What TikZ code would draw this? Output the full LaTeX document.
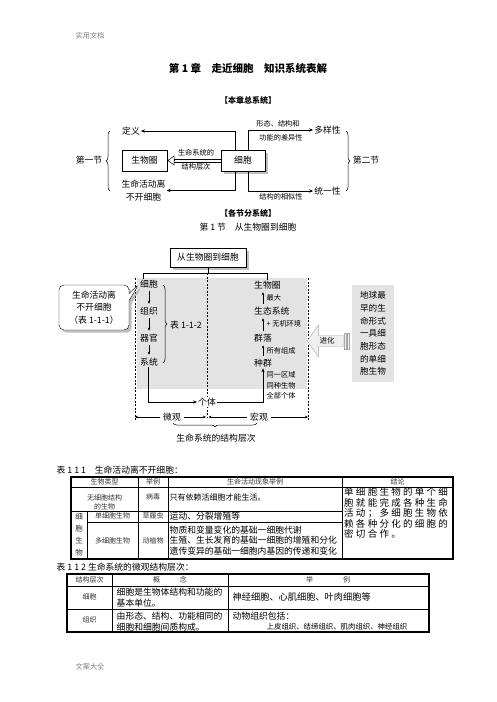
\documentclass[tikz,border=0pt]{standalone}
\usepackage{fontspec}
\setmainfont{Noto Sans CJK SC}
\newfontfamily\widecjk[LetterSpace=24]{Noto Sans CJK SC}
\usepackage{tikz}
\usetikzlibrary{positioning,arrows.meta,decorations.pathreplacing,shapes.callouts,shapes.arrows,shadows}
\newcommand{\fsz}[2]{\fontsize{#1}{#2}\selectfont}

\begin{document}
\begin{tikzpicture}[x=1pt,y=-1pt,
  txt/.style={inner sep=1pt,font=\fsz{8.8}{12.5}},
  sml/.style={inner sep=0.5pt,font=\fsz{7.2}{10.5}},
  tbl/.style={inner sep=0.5pt,font=\fsz{8.8}{10.6}},
  tsm/.style={inner sep=0.5pt,font=\fsz{7}{9.5},black!80},
  box/.style={draw,line width=0.9pt,inner sep=1pt,fill=white,font=\fsz{8.8}{10}},
  arr/.style={-{Stealth[length=4pt,width=3.2pt]},line width=0.5pt},
  sarr/.style={-{Stealth[length=3pt,width=2.6pt]},line width=0.4pt,shorten <=2pt,shorten >=2pt},
  brc/.style={decorate,decoration={brace,amplitude=4pt},line width=0.5pt},
  guide/.style={line width=0.4pt,dash pattern=on 2pt off 1.5pt}]

\fill[white] (0,0) rectangle (496,702);
\useasboundingbox (0,0) rectangle (496,702);

% page head
\node[sml,gray] (hd) at (90,36) {实用文档};
\node[font=\fsz{10.5}{12}\bfseries] (title) at (248,68) {第 1 章\quad 走近细胞\quad 知识系统表解};
\node[font=\fsz{8}{10}\bfseries] (part0) at (248,100) {【本章总系统】};

% chapter system
\node[box,minimum width=45pt,minimum height=21pt] (bio) at (144.5,160.5) {生物圈};
\node[box,line width=0.5pt,drop shadow,minimum width=44pt,minimum height=21pt] (cell) at (243,160.5) {细胞};
\node[txt] (def) at (131,131) {定义};
\node[txt,align=center] (life) at (143.5,190.5) {生命活动离\\不开细胞};
\node[txt] (div) at (327.5,130) {多样性};
\node[txt] (uni) at (327.5,191) {统一性};
\node[txt] (sec1) at (89,160) {第一节};
\node[txt] (sec2) at (366,160) {第二节};
\node[sml] (lvl1) at (196,153) {生命系统的};
\node[sml] (lvl2) at (196,167) {结构层次};
\node[sml] (dv1) at (278,124) {形态、结构和};
\node[sml] (dv2) at (281,138) {功能的差异性};
\node[sml] (un1) at (281,197) {结构的相似性};
\draw[arr] ([xshift=-8pt]cell.north) |- (def);
\draw[arr] ([xshift=-8pt]cell.south) |- (life.east);
\draw[arr] ([xshift=5pt]cell.north) |- (div);
\draw[arr] ([xshift=5pt]cell.south) |- (uni);
\draw[line width=0.5pt] ([yshift=1.6pt]cell.west) -- ([yshift=1.6pt,xshift=7pt]bio.east)
  ([yshift=-1.6pt]cell.west) -- ([yshift=-1.6pt,xshift=7pt]bio.east);
\draw[line width=0.5pt,-{Triangle[open,length=7pt,width=10pt]}] ([xshift=8pt]bio.east) -- (bio.east);
\draw[brc] (110,191) -- (110,131);
\draw[brc] (346,131) -- (346,191);

% section 1
\node[font=\fsz{8}{10}\bfseries] (part1) at (248,213) {【各节分系统】};
\node[font=\fsz{8.8}{10}] (sect) at (248,227) {第 1 节\quad 从生物圈到细胞};
\fill[gray!22] (137,278) rectangle (307,389);
\draw[guide] (135,278) -- (135,420);
\draw[guide] (308,278) -- (308,420);
\draw[guide] (207,273) -- (207,418);
\node[box,line width=0.5pt,drop shadow,minimum width=76pt,minimum height=19pt] (top) at (208,257.5) {从生物圈到细胞};

\node[txt] (lcell) at (149,284) {细胞};
\node[txt] (ltis) at (149,311) {组织};
\node[txt] (lorg) at (149,338) {器官};
\node[txt] (lsys) at (149,362) {系统};
\draw[sarr] (lcell) -- (ltis);
\draw[sarr] (ltis) -- (lorg);
\draw[sarr] (lorg) -- (lsys);
\draw[brc] (163,285) -- (163,363);
\node[txt] (t112) at (186,325) {表 1-1-2};

\node[txt,anchor=west] (rbio) at (253,285) {生物圈};
\node[txt,anchor=west] (reco) at (253,311) {生态系统};
\node[txt,anchor=west] (rcom) at (253,338) {群落};
\node[txt,anchor=west] (rpop) at (253,363) {种群};
\draw[sarr] (rcom.north |- reco.north) -- (rcom.north |- rbio.south);
\draw[sarr] (rcom.north) -- (rcom.north |- reco.south);
\draw[sarr] (rpop.north) -- (rpop.north |- rcom.south);
\node[sml,anchor=west] (lmax) at (266,298) {最大};
\node[sml,anchor=west] (lenv) at (266,324) {+ 无机环境};
\node[sml,anchor=west] (lall) at (266,351) {所有组成};
\node[sml,anchor=west,align=left] (lsame) at (266,385.5) {同一区域\\同种生物\\全部个体};

\draw[line width=0.5pt] ([xshift=-6pt]lcell.north) |- ([yshift=-6pt]top.south) -- (top.south);
\draw[line width=0.5pt] (rbio.north) |- ([yshift=-6pt]top.south);

\node[txt,rectangle callout,draw,fill=white,rounded corners=5pt,drop shadow,align=center,
  minimum width=70pt,minimum height=45pt,callout absolute pointer={(lcell.west)}] (note) at (94,307.5) {生命活动离\\不开细胞\\（表 1-1-1）};

\node[txt,fill=white] (indiv) at (207,402) {个体};
\draw[arr] ([xshift=-1pt]lsys.south) |- (indiv);
\draw[arr] (indiv) -| (rpop);

\node[txt,fill=white] (micro) at (172,417) {微观};
\node[txt,fill=white] (macro) at (259,417) {宏观};
\coordinate (mi1) at (135,417);
\coordinate (mi2) at (206,417);
\coordinate (ma1) at (208.5,417);
\coordinate (ma2) at (308,417);
\draw[sarr,shorten >=0pt] (micro) -- (mi1);
\draw[sarr,shorten >=0pt] (micro) -- (mi2);
\draw[sarr,shorten >=0pt] (macro) -- (ma1);
\draw[sarr,shorten >=0pt] (macro) -- (ma2);
\draw[brc] (257,423) -- (173,423);
\node[txt] (lvl) at (216,438) {生命系统的结构层次};

\node[fill=gray!22,align=center,minimum width=42pt,minimum height=97pt,inner sep=1pt,font=\fsz{8.6}{12.7}] (early) at (373,333.5) {地球最\\早的生\\命形式\\一具细\\胞形态\\的单细\\胞生物};
\node[single arrow,draw=gray!70,fill=gray!12,shape border rotate=180,minimum height=36pt,minimum width=32pt,
  single arrow head extend=8pt,single arrow tip angle=110,inner sep=0.5pt,anchor=tip,font=\fsz{7.5}{9}] (evo) at (307,341) {进化};
\foreach \sx in {344.5,347.5}
  \draw[gray!70,fill=gray!12,line width=0.4pt] (\sx,333) rectangle ++(2,16);

% table 1-1-1
\node[tbl,anchor=west] (cap1) at (56,470) {表 1 1 1\quad 生命活动离不开细胞：};
\draw[line width=1.3pt] (71,477) rectangle (453,559);
\draw[line width=0.5pt] (71,487) -- (453,487) (71,511) -- (342,511) (87,522) -- (342,522)
  (87,511) -- (87,559) (138,477) -- (138,559) (168,477) -- (168,559) (342,477) -- (342,559);
\node[tsm] (h1) at (104.5,482) {生物类型};
\node[tsm] (h2) at (153,482) {举例};
\node[tsm] (h3) at (255,482) {生命活动现象举例};
\node[tsm] (h4) at (397.5,482) {结论};
\node[tsm,align=center] (nocell) at (104.5,502.3) {无细胞结构\\的生物};
\node[tsm] (virus) at (153,497) {病毒};
\node[tbl,anchor=west,font=\fsz{8}{10}] (virusf) at (169,497) {只有依赖活细胞才能生活。};
\node[anchor=west,align=left,inner sep=0.5pt,font=\widecjk\fsz{9.5}{10.4}] (concl) at (343.5,513) {单细胞生物的单个细\\胞就能完成各种生命\\活动；多细胞生物依\\赖各种分化的细胞的\\密切合作。};
\node[tsm,align=center,font=\fsz{7.5}{12}] (cellorg) at (79,534.5) {细\\胞\\生\\物};
\node[tsm] (uni1) at (112.5,516) {单细胞生物};
\node[tsm] (para) at (153,516) {草履虫};
\node[tbl,anchor=west] (paraf) at (169,516) {运动、分裂增殖等};
\node[tsm] (mul1) at (112.5,541) {多细胞生物};
\node[tsm] (anpl) at (153,541) {动植物};
\node[tbl,anchor=west,align=left] (anplf) at (169,540.5) {物质和变量变化的基础一细胞代谢\\生殖、生长发育的基础一细胞的增殖和分化\\遗传变异的基础一细胞内基因的传递和变化};

% table 1-1-2
\node[tbl,anchor=west] (cap2) at (56,567) {表 1 1 2 生命系统的微观结构层次：};
\draw[line width=1.3pt] (67,574) rectangle (429,632);
\draw[line width=0.5pt] (67,586) -- (429,586) (67,609) -- (429,609) (112,574) -- (112,632) (228,574) -- (228,632);
\node[tsm] (k1) at (89.5,580) {结构层次};
\node[tsm] (k2) at (170,580) {概\hspace{20pt}念};
\node[tsm] (k3) at (328,580) {举\hspace{30pt}例};
\node[tsm] (c1) at (89.5,597) {细胞};
\node[tbl,anchor=west,align=left] (c2) at (116,597.5) {细胞是生物体结构和功能的\\基本单位。};
\node[tbl,anchor=west,font=\fsz{9.2}{10}] (c3) at (232,597) {神经细胞、心肌细胞、叶肉细胞等};
\node[tsm] (g1) at (89.5,620) {组织};
\node[tbl,anchor=west,align=left] (g2) at (116,621.5) {由形态、结构、功能相同的\\细胞和细胞间质构成。};
\node[tbl,anchor=west] (g3) at (232,616) {动物组织包括：};
\node[sml,font=\fsz{7.4}{9}] (g4) at (337,627) {上皮组织、结缔组织、肌肉组织、神经组织};

\node[sml,gray] (ft) at (90,667) {文案大全};
\end{tikzpicture}
\end{document}
